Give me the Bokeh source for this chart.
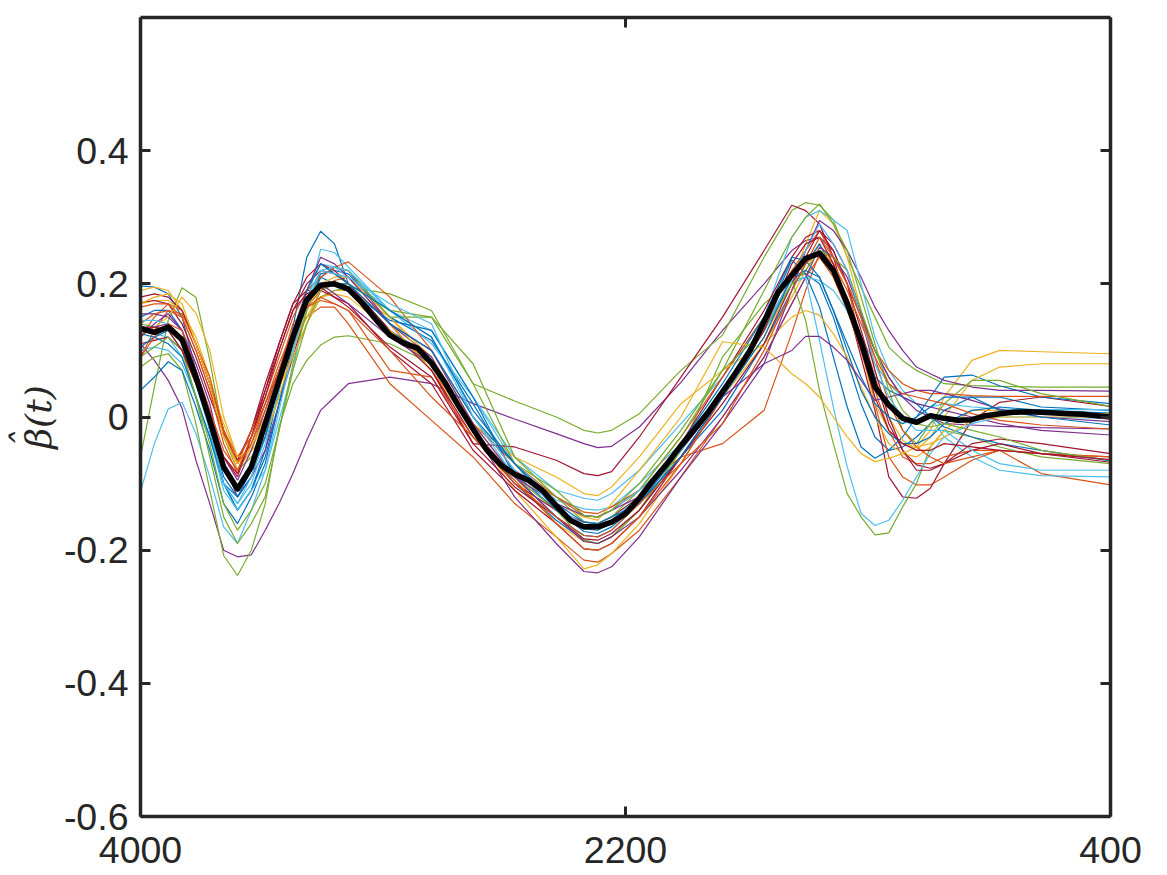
import numpy as np
from bokeh.plotting import figure
from bokeh.models import Range1d, FixedTicker, LinearAxis
from bokeh.embed import file_html
from bokeh.resources import INLINE

# wavenumber grid of the curves, the thin ones are read at the knots only
wavenumber = np.linspace(4000, 400, 71)
knots = [0, 1, 2, 3, 4, 5, 6, 7, 8, 9, 10, 11, 12, 13, 14, 15,
         18, 21, 24, 27, 30,
         32, 33, 34, 36,
         39, 42, 45, 47,
         48, 49, 50, 51, 52, 53, 54, 55, 56, 57, 58,
         60, 62, 65, 70]

x_ticks = [4000, 2200, 400]
y_ticks = [-0.6, -0.4, -0.2, 0, 0.2, 0.4]
y_labels = ["-0.6", "-0.4", "-0.2", "0", "0.2", "0.4"]

colors = ["#0072BD", "#D95319", "#EDB120", "#7E2F8E", "#77AC30", "#4DBEEE", "#A2142F"]

c01 = [.197, .195, .185, .15, .07, -.02, -.1, -.14, -.11, -.05, .04, .135, .24, .279, .26, .2,
       .13, .09, -.02, -.1, -.155, -.185, -.19, -.18, -.14, -.06, .03, .13, .21,
       .215, .2, .15, .085, .02, -.03, -.05, -.045, -.03, -.01, .01, .03, .03, .015, .01]
c02 = [.12, .15, .17, .16, .11, .05, -.02, -.07, -.04, .02, .07, .125, .165, .19, .205, .21,
       .14, .07, -.01, -.07, -.12, -.148, -.15, -.14, -.11, -.06, -.04, .01, .126,
       .19, .246, .24, .2, .11, .02, -.06, -.09, -.102, -.102, -.09, -.065, -.05, -.085, -.102]
c03 = [.17, .175, .175, .16, .11, .05, -.01, -.06, -.03, .02, .065, .11, .15, .18, .19, .19,
       .15, .09, -.01, -.09, -.16, -.187, -.19, -.18, -.14, -.05, .03, .11, .18,
       .22, .26, .23, .17, .1, .02, -.02, -.04, -.045, -.02, .03, .085, .1, .098, .095]
c04 = [.11, .085, .055, .013, -.065, -.13, -.2, -.21, -.207, -.17, -.13, -.085, -.035, .01, .03, .05,
       .06, .05, .02, -.003, -.025, -.04, -.046, -.044, -.015, .052, .13, .2, .25,
       .265, .27, .25, .2, .15, .1, .06, .03, .01, 0, -.01, -.012, -.014, -.016, -.018]
c05 = [-.06, .045, .145, .194, .18, .085, -.03, -.08, -.06, -.03, .03, .09, .14, .18, .19, .195,
       .185, .16, .05, .024, 0, -.02, -.024, -.02, .005, .07, .123, .24, .31,
       .322, .318, .296, .24, .195, .15, .105, .085, .07, .06, .05, .047, .046, .045, .045]
c06 = [-.112, -.04, .012, .022, -.025, -.09, -.165, -.19, -.14, -.08, -.005, .07, .17, .252, .247, .225,
       .16, .13, .03, -.07, -.125, -.138, -.14, -.135, -.1, -.04, .04, .13, .2,
       .21, .205, .19, .16, .12, .08, .05, .03, .02, 0, -.03, -.06, -.08, -.088, -.09]
c07 = [.172, .175, .17, .14, .09, .03, -.025, -.065, -.02, .04, .1, .16, .2, .22, .215, .2,
       .14, .07, -.04, -.045, -.065, -.085, -.088, -.082, -.03, .06, .15, .25, .318,
       .31, .29, .24, .17, .09, .01, -.09, -.12, -.122, -.107, -.07, -.005, .022, .03, .016]
c08 = [.15, .16, .16, .13, .06, -.02, -.1, -.14, -.11, -.06, .02, .1, .17, .215, .22, .215,
       .15, .115, .02, -.085, -.14, -.172, -.175, -.165, -.13, -.05, .04, .14, .236,
       .215, .165, .09, .015, -.045, -.062, -.05, -.03, 0, .03, .06, .063, .047, .03, .02]
c09 = [.09, .13, .16, .15, .1, .04, -.02, -.06, -.03, .02, .07, .12, .15, .165, .165, .14,
       .05, -.005, -.06, -.13, -.18, -.215, -.218, -.205, -.17, -.09, 0, .09, .17,
       .21, .24, .21, .16, .1, .04, -.02, -.06, -.07, -.07, -.06, -.05, -.05, -.055, -.06]
c10 = [.19, .195, .19, .16, .12, .06, -.02, -.08, -.05, 0, .05, .1, .15, .19, .2, .2,
       .14, .07, -.02, -.11, -.18, -.228, -.222, -.205, -.16, -.07, .03, .12, .2,
       .26, .31, .29, .24, .16, .07, 0, -.035, -.05, -.03, 0, .055, .075, .08, .08]
c11 = [.155, .155, .15, .13, .08, .02, -.07, -.12, -.09, -.05, .02, .09, .16, .21, .225, .22,
       .14, .09, -.02, -.12, -.19, -.232, -.234, -.225, -.18, -.09, -.01, .08, .19,
       .25, .295, .28, .25, .21, .165, .13, .1, .075, .065, .055, .045, .04, .04, .039]
c12 = [.075, .09, .095, .07, -.01, -.11, -.208, -.238, -.2, -.13, -.015, .05, .085, .108, .12, .122,
       .11, .08, -.02, -.09, -.14, -.185, -.19, -.18, -.14, -.05, .09, .17, .206,
       .145, .04, -.04, -.115, -.15, -.177, -.174, -.135, -.1, -.045, -.02, -.03, -.045, -.06, -.07]
c13 = [.13, .125, .12, .09, .03, -.03, -.1, -.13, -.1, -.04, .04, .12, .19, .23, .225, .21,
       .16, .11, .03, -.06, -.11, -.122, -.125, -.115, -.08, -.01, .06, .15, .27,
       .3, .31, .296, .28, .2, .12, .07, .04, .02, .015, .02, .015, .012, .011, .011]
c14 = [.18, .185, .18, .16, .11, .05, -.02, -.07, -.02, .05, .11, .17, .21, .23, .22, .2,
       .13, .07, -.03, -.1, -.14, -.158, -.16, -.15, -.12, -.04, .06, .16, .24,
       .27, .28, .25, .2, .13, .06, -.01, -.05, -.072, -.077, -.07, -.04, -.033, -.04, -.055]
c15 = [.04, .06, .083, .07, .015, -.05, -.13, -.16, -.12, -.07, .02, .11, .17, .21, .2, .19,
       .145, .13, .03, -.09, -.15, -.178, -.18, -.17, -.13, -.06, .01, .11, .19,
       .23, .26, .22, .16, .11, .06, .04, .03, .02, 0, -.015, -.03, -.04, -.05, -.066]
c16 = [.14, .155, .16, .155, .11, .06, -.02, -.07, -.02, .03, .09, .15, .19, .21, .225, .233,
       .18, .1, 0, -.08, -.12, -.143, -.145, -.135, -.11, -.03, .06, .15, .22,
       .25, .28, .24, .2, .15, .1, .07, .05, .04, .035, .035, .032, .031, .031, .031]
c17 = [.12, .135, .15, .18, .156, .1, 0, -.06, -.05, -.03, .03, .1, .16, .2, .21, .21,
       .15, .08, -.01, -.06, -.09, -.115, -.118, -.105, -.06, .02, .07, .11, .15,
       .16, .153, .125, .09, .045, 0, -.04, -.055, -.06, -.045, -.02, .01, .01, .007, .005]
c18 = [.13, .135, .14, .12, .07, .01, -.06, -.095, -.05, .01, .07, .13, .19, .24, .23, .21,
       .14, .1, -.01, -.09, -.15, -.187, -.19, -.18, -.15, -.08, 0, .09, .17,
       .21, .255, .24, .21, .155, .1, .06, .03, .02, .015, .01, 0, -.01, -.02, -.027]
c19 = [.14, .135, .13, .1, .03, -.06, -.15, -.19, -.16, -.12, -.02, .08, .16, .22, .225, .22,
       .15, .15, .08, -.06, -.12, -.157, -.16, -.15, -.11, -.03, .07, .19, .27,
       .3, .32, .29, .25, .18, .11, .04, -.02, -.04, -.01, .02, .055, .055, .035, .016]
c20 = [.1, .105, .1, .08, .03, -.03, -.11, -.14, -.11, -.08, .01, .1, .17, .22, .225, .22,
       .16, .12, 0, -.09, -.13, -.148, -.15, -.14, -.11, -.05, .03, .14, .205,
       .21, .115, .015, -.075, -.145, -.163, -.155, -.125, -.09, -.055, -.03, -.01, 0, 0, -.002]
c21 = [.11, .115, .12, .1, .05, 0, -.06, -.09, -.03, .04, .11, .17, .19, .19, .18, .17,
       .1, .05, -.05, -.11, -.16, -.198, -.2, -.19, -.15, -.06, .02, .11, .2,
       .24, .28, .26, .22, .15, .07, 0, -.05, -.08, -.08, -.07, -.05, -.04, -.055, -.068]
c22 = [.125, .12, .11, .09, .03, -.03, -.1, -.12, -.09, -.03, .05, .12, .19, .23, .215, .2,
       .14, .1, 0, -.07, -.14, -.168, -.17, -.16, -.12, -.04, .05, .15, .24,
       .235, .21, .16, .1, .04, 0, -.025, -.04, -.04, -.03, -.01, .01, .015, .01, .006]
c23 = [.165, .17, .17, .15, .1, .04, -.04, -.085, -.04, .01, .07, .14, .165, .175, .17, .16,
       .07, .06, -.03, -.095, -.16, -.198, -.2, -.19, -.15, -.07, .03, .13, .21,
       .23, .25, .23, .19, .14, .09, .02, -.02, -.045, -.06, -.07, -.06, -.05, -.055, -.06]
c24 = [.17, .18, .185, .17, .11, .05, -.03, -.07, -.045, 0, .045, .09, .14, .18, .185, .18,
       .13, .08, -.02, -.09, -.13, -.15, -.155, -.13, -.08, 0, .113, .105, .065,
       .05, .03, 0, -.03, -.055, -.067, -.062, -.055, -.045, -.04, -.03, -.005, 0, 0, 0]
c25 = [.12, .14, .155, .13, .07, 0, -.07, -.105, -.07, -.02, .05, .12, .17, .2, .185, .17,
       .12, .08, -.02, -.09, -.13, -.148, -.15, -.14, -.12, -.05, .03, .08, .1,
       .121, .121, .105, .085, .055, .025, .03, .035, .04, .04, .035, .025, .012, 0, -.007]
c26 = [.09, .105, .12, .1, .03, -.04, -.13, -.17, -.14, -.1, -.02, .07, .14, .19, .2, .2,
       .16, .15, .05, -.07, -.11, -.148, -.15, -.14, -.1, -.02, .07, .13, .2,
       .22, .25, .24, .22, .16, .1, .05, .01, -.01, -.015, -.01, -.02, -.03, -.05, -.065]
c27 = [.145, .145, .14, .11, .05, -.02, -.1, -.13, -.09, -.03, .05, .12, .18, .22, .215, .21,
       .17, .14, 0, -.08, -.135, -.162, -.165, -.155, -.12, -.05, .04, .13, .21,
       .25, .29, .26, .22, .15, .08, .03, 0, -.02, -.02, -.02, -.05, -.07, -.08, -.08]
c28 = [.135, .135, .13, .1, .05, 0, -.06, -.085, -.03, .03, .1, .16, .185, .195, .18, .165,
       .105, .06, -.04, -.105, -.15, -.183, -.185, -.175, -.14, -.06, .03, .13, .23,
       .26, .27, .23, .17, .1, .03, -.02, -.04, -.05, -.05, -.04, -.045, -.05, -.055, -.064]
c29 = [.105, .12, .13, .12, .06, -.01, -.09, -.12, -.08, -.03, .05, .13, .18, .2, .2, .2,
       .16, .12, .01, -.07, -.13, -.158, -.16, -.15, -.13, -.06, .03, .12, .21,
       .22, .21, .16, .11, .06, .02, 0, -.01, 0, .015, .03, .03, .01, 0, -.012]
c30 = [.09, .12, .14, .13, .07, .01, -.05, -.08, -.03, .02, .08, .13, .165, .18, .17, .16,
       .1, .03, -.03, -.1, -.15, -.178, -.18, -.17, -.13, -.07, -.01, .1, .19,
       .23, .27, .24, .2, .15, .09, .05, .035, .03, .025, .02, .005, -.005, -.012, -.018]

curves = [c01, c02, c03, c04, c05, c06, c07, c08, c09, c10,
          c11, c12, c13, c14, c15, c16, c17, c18, c19, c20,
          c21, c22, c23, c24, c25, c26, c27, c28, c29, c30]

# thick black line, read at every grid point
mean_curve = [.133, .127, .135, .116, .06, -.005, -.075, -.108, -.075, -.01,
              .055, .12, .176, .198, .2, .192, .171, .146, .123, .111,
              .103, .081, .051, .015, -.018, -.05, -.072, -.086, -.095, -.11,
              -.133, -.155, -.165, -.165, -.158, -.145, -.122, -.095, -.07, -.043,
              -.018, .008, .038, .068, .1, .143, .187, .213, .238, .246,
              .22, .171, .113, .045, .018, -.002, -.008, .002, -.002, -.005,
              -.004, .002, .005, .007, .008, .007, .006, .005, .004, .002, 0]

dark = "#262626"

p = figure(
    width=1160,
    height=871,
    x_range=Range1d(4000, 400),
    y_range=Range1d(-0.6, 0.6),
    output_backend="svg",
    toolbar_location=None,
    min_border_left=140,
    min_border_right=50,
    min_border_top=17,
    min_border_bottom=55,
)
p.grid.grid_line_color = None
p.outline_line_color = None

thin_x = wavenumber[knots]
for i, c in enumerate(curves):
    p.line(thin_x, c, line_color=colors[i % len(colors)], line_width=1.2)
p.line(wavenumber, mean_curve, line_color="black", line_width=5.5, line_join="round")

p.add_layout(LinearAxis(), "above")
p.add_layout(LinearAxis(), "right")

for ax in p.xaxis + p.yaxis:
    ax.axis_line_color = dark
    ax.axis_line_width = 3.5
    ax.major_tick_line_color = dark
    ax.major_tick_line_width = 3
    ax.major_tick_in = 10
    ax.major_tick_out = 0
    ax.minor_tick_line_color = None
    ax.major_label_text_color = dark
    ax.major_label_text_font = "Liberation Sans"
    ax.major_label_text_font_size = "37.5px"

for ax in p.xaxis:
    ax.ticker = FixedTicker(ticks=x_ticks)
    ax.major_label_standoff = 20
for ax in p.yaxis:
    ax.ticker = FixedTicker(ticks=y_ticks)
    ax.major_label_overrides = dict(zip(y_ticks, y_labels))
    ax.major_label_standoff = 12

# top and right only repeat the ticks
p.above[0].major_label_overrides = {t: "" for t in x_ticks}
p.right[0].major_label_overrides = {t: "" for t in y_ticks}
for ax in [p.above[0], p.right[0]]:
    ax.major_label_text_font_size = "1px"
    ax.major_label_standoff = 0

# hat on a line of its own, the no-break spaces push it over the beta
p.left[0].axis_label = "ˆ\u00a0\u00a0\u00a0\u00a0\nβ(t)"
p.left[0].axis_label_text_font = "DejaVu Serif"
p.left[0].axis_label_text_font_style = "italic"
p.left[0].axis_label_text_font_size = "36px"
p.left[0].axis_label_text_color = dark
p.left[0].axis_label_text_line_height = 0.33
p.left[0].axis_label_standoff = 2

open("out.html", "w").write(file_html(p, INLINE))
